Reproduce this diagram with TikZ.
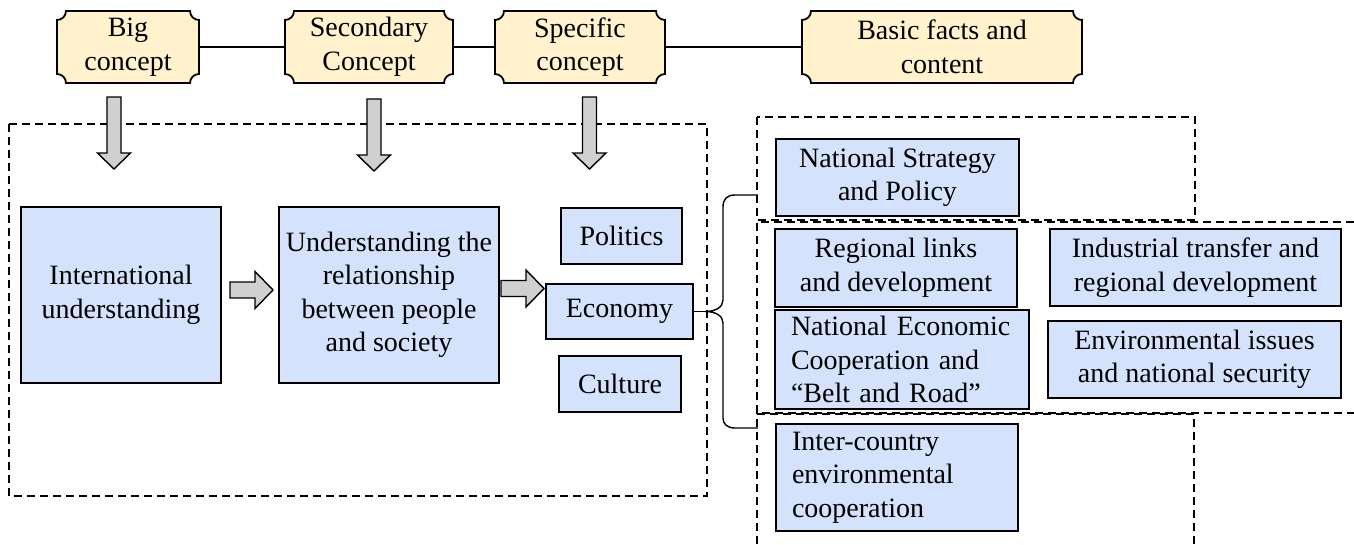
\documentclass[tikz,border=0pt]{standalone}
\usepackage{fontspec}
\setmainfont{Liberation Serif}
\definecolor{boxblue}{RGB}{213,226,252}
\definecolor{plaquefill}{RGB}{255,242,204}
\definecolor{arrowgray}{RGB}{208,208,208}

% plaque with concave corners: name, x1, y1, x2, y2, text
\newcommand\plaque[6]{%
  \path[plaqueline]
    (#2,#3+9) .. controls (#2+5,#3+9) and (#2+9,#3+5) .. (#2+9,#3)
    -- (#4-9,#3) .. controls (#4-9,#3+5) and (#4-5,#3+9) .. (#4,#3+9)
    -- (#4,#5-9) .. controls (#4-5,#5-9) and (#4-9,#5-5) .. (#4-9,#5)
    -- (#2+9,#5) .. controls (#2+9,#5-5) and (#2+5,#5-9) .. (#2,#5-9)
    -- cycle;
  \node[plaquetext, minimum width={(#4-#2)*1pt}, minimum height={(#5-#3)*1pt}]
    (#1) at ({(#2+#4)/2},{(#3+#5)/2}) {#6};
}

\begin{document}
\begin{tikzpicture}[x=1pt,y=-1pt,
  every node/.style={font=\fontsize{28}{33.5}\selectfont},
  conceptbox/.style={draw=black, line width=1.8pt, fill=boxblue, inner sep=0pt, align=center},
  leftbox/.style={draw=black, line width=1.8pt, fill=boxblue, inner xsep=16pt, inner ysep=0pt, align=left},
  plaquetext/.style={inner sep=0pt, align=center},
  plaqueline/.style={draw=black, line width=1.8pt, fill=plaquefill},
  region/.style={draw=black, line width=1.8pt, dash pattern=on 8pt off 5pt},
  blockarrow/.style={draw=black, line width=1.4pt, fill=arrowgray, line join=miter},
  link/.style={draw=black, line width=1.4pt},
  downblock/.pic={
    \path[blockarrow] (-7,0) -- (-7,56) -- (-16.5,56) -- (0,72) -- (16.5,56) -- (7,56) -- (7,0) -- cycle;
  },
  rightblock/.pic={
    \path[blockarrow] (0,-8) -- (25,-8) -- (25,-18.5) -- (43,0) -- (25,18.5) -- (25,8) -- (0,8) -- cycle;
  },
]
\useasboundingbox (0,0) rectangle (1354,544);

% dashed regions
\draw[region] (9,124) rectangle (707,496);
\draw[region] (757,117) rectangle (1195,220);
\draw[region] (1354,222) -- (757,222) -- (757,413) -- (1354,413);
\draw[region] (757,544) -- (757,414) -- (1194,414) -- (1194,544);

% concept levels
\plaque{big}{57}{11}{199}{83}{Big\\concept}
\plaque{sec}{285}{11}{453}{83}{Secondary\\Concept}
\plaque{spe}{495}{11}{665}{83}{Specific\\concept}
\plaque{bas}{802}{11}{1082}{83}{Basic facts and\\content}
\draw[link] (big.east) -- (sec.west);
\draw[link] (sec.east) -- (spe.west);
\draw[link] (spe.east) -- (bas.west);

\pic at (114,97) {downblock};
\pic at (374,99) {downblock};
\pic at (589.5,97) {downblock};

% main chain
\node[conceptbox, minimum width=200pt, minimum height=176pt] (intl) at (121,295) {International\\understanding};
\node[conceptbox, minimum width=220pt, minimum height=176pt] (rel) at (389,295) {Understanding the\\relationship\\between people\\and society};
\node[conceptbox, minimum width=121pt, minimum height=56pt] (pol) at (621.5,236) {Politics};
\node[conceptbox, minimum width=147pt, minimum height=55pt] (eco) at (619.5,311.5) {Economy};
\node[conceptbox, minimum width=122pt, minimum height=56pt] (cul) at (620,384) {Culture};

\pic at (230,290) {rightblock};
\pic at (501,288.5) {rightblock};

% basic facts
\node[conceptbox, minimum width=243pt, minimum height=77pt] (nsp) at (897.5,177.5) {National Strategy\\and Policy};
\node[conceptbox, minimum width=242pt, minimum height=78pt] (reg) at (896,268) {Regional links\\and development};
\node[conceptbox, minimum width=291pt, minimum height=77pt] (ind) at (1195.5,267.5) {Industrial transfer and\\regional development};
\node[leftbox, text width=222pt, minimum height=99pt] (nec) at (902,359.5) {National Economic\\Cooperation and\\``Belt and Road''};
\node[conceptbox, minimum width=293pt, minimum height=77pt] (env) at (1194.5,359.5) {Environmental issues\\and national security};
\node[leftbox, text width=210pt, minimum height=107pt] (icc) at (897,477.5) {Inter-country\\environmental\\cooperation};

% brace from Economy to the three groups
\coordinate (tip) at (705,311.5);
\coordinate (bracetop) at (758,195);
\coordinate (bracebot) at (758,428);
\draw[link] (eco.east) -- (tip);
\draw[link] (bracetop) -- (735,195) .. controls (727,195) and (723,199) .. (723,207)
  -- (723,300) .. controls (723,307) and (716,311.5) .. (tip)
  .. controls (716,311.5) and (723,316) .. (723,323)
  -- (723,418) .. controls (723,424) and (727,428) .. (735,428) -- (bracebot);
\end{tikzpicture}
\end{document}
